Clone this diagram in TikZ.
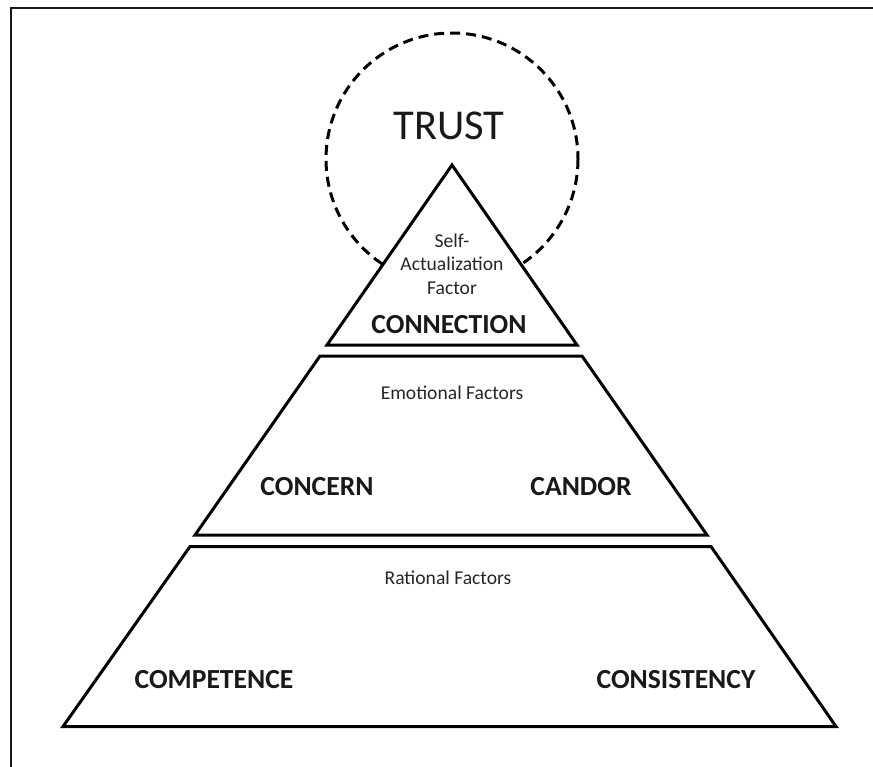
\documentclass[tikz,border=0pt]{standalone}
\usepackage{fontspec}
\setmainfont{Carlito}
\begin{document}
\begin{tikzpicture}[x=1pt,y=-1pt,
  tier/.style={draw=black,line width=3pt,line join=miter,fill=white},
  factor/.style={font=\fontsize{19.6}{23.5}\selectfont,text=black!85,align=center,inner sep=0pt},
  keyword/.style={font=\fontsize{27.6}{32}\selectfont\bfseries,text=black!90,inner sep=0pt},
  halo/.style={draw=black,line width=3pt,dash pattern=on 10pt off 6pt}]
  \useasboundingbox (0,0) rectangle (873,766);
  % outer frame (only its top and left sides fall inside the page)
  \draw[line width=2.5pt,black!90] (11,770) -- (11,8) -- (880,8);

  % dashed circle round the apex
  \draw[halo] (452,159) circle[radius=126];
  \node[font=\fontsize{42.5}{48}\selectfont,text=black!90,inner sep=0pt] (trust) at (449,126) {TRUST};

  % three tiers of the pyramid
  \draw[tier] (452,165) coordinate (apex) -- (577,345) coordinate (t1r) -- (327,345) coordinate (t1l) -- cycle;
  \draw[tier] (320,356) coordinate (t2tl) -- (582,356) coordinate (t2tr) -- (707,535) coordinate (t2br) -- (195,535) coordinate (t2bl) -- cycle;
  \draw[tier] (190,546.5) coordinate (t3tl) -- (711,546.5) coordinate (t3tr) -- (836,726.5) coordinate (t3br) -- (63,726.5) coordinate (t3bl) -- cycle;

  % top tier
  \node[factor] (selfact) at (452,264) {Self-\\Actualization\\Factor};
  \node[keyword] (connection) at (449,325) {CONNECTION};

  % middle tier
  \node[factor] (emotional) at (452,393) {Emotional Factors};
  \node[keyword] (concern) at (317,487) {CONCERN};
  \node[keyword] (candor) at (581,487) {CANDOR};

  % bottom tier
  \node[factor] (rational) at (448,578) {Rational Factors};
  \node[keyword] (competence) at (214,680) {COMPETENCE};
  \node[keyword] (consistency) at (676,680) {CONSISTENCY};
\end{tikzpicture}
\end{document}
